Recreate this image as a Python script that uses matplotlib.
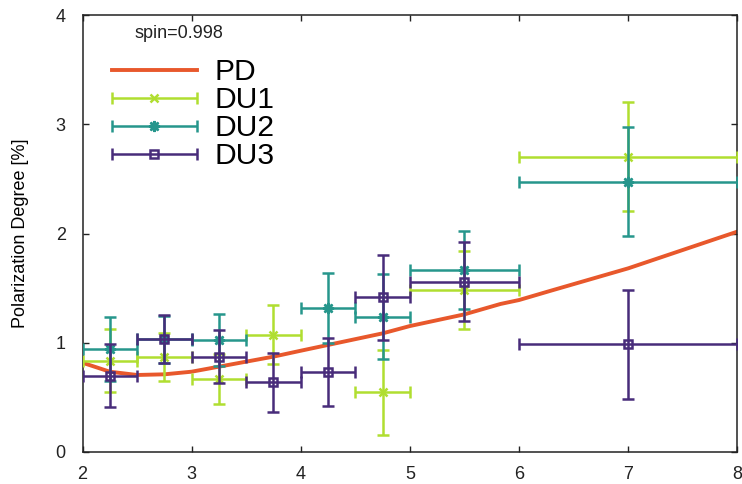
import numpy as np
import matplotlib
matplotlib.use("Agg")
import matplotlib.pyplot as plt
from matplotlib.container import ErrorbarContainer
from matplotlib.legend_handler import HandlerErrorbar

plt.rcParams['font.family'] = ['Liberation Sans', 'DejaVu Sans']

# PD model curve
pd_x = [2.0, 2.25, 2.5, 2.75, 3.0, 3.25, 3.5, 3.75, 4.0, 4.25, 4.75, 5.0,
        5.5, 5.83, 6.0, 6.29, 7.0, 7.5, 8.0]
pd_y = [0.817, 0.735, 0.705, 0.711, 0.735, 0.781, 0.827, 0.873, 0.927, 0.98,
        1.086, 1.153, 1.26, 1.355, 1.391, 1.476, 1.681, 1.849, 2.017]

# energy bins (centers and half widths)
bin_x = [2.25, 2.75, 3.25, 3.75, 4.25, 4.75, 5.5, 7.0]
bin_xerr = [0.25, 0.25, 0.25, 0.25, 0.25, 0.25, 0.5, 1.0]

du1_y = [0.836, 0.867, 0.668, 1.071, np.nan, 0.546, 1.483, 2.703]
du1_err = [0.29, 0.22, 0.23, 0.27, np.nan, 0.39, 0.36, 0.50]
du2_y = [0.943, 1.03, 1.025, np.nan, 1.315, 1.239, 1.666, 2.474]
du2_err = [0.29, 0.215, 0.24, np.nan, 0.32, 0.39, 0.36, 0.50]
du3_y = [0.699, 1.034, 0.873, 0.638, 0.73, 1.416, 1.559, 0.986]
du3_err = [0.29, 0.22, 0.24, 0.27, 0.31, 0.39, 0.36, 0.50]

c_pd = '#e8582c'
c_du1 = '#b0de30'
c_du2 = '#26968c'
c_du3 = '#482c7a'

fig = plt.figure(figsize=(7.42, 4.84), dpi=100)
ax = fig.add_axes([82.5/742, 1-452/484, (737.3-82.5)/742, (452-15)/484])

pd_line, = ax.plot(pd_x, pd_y, color=c_pd, lw=2.8, label='PD', zorder=2)

handles = [pd_line]
specs = [
    (du1_y, du1_err, c_du1, 'x', 6, 'DU1', 'full'),
    (du2_y, du2_err, c_du2, (8, 2, 0), 8, 'DU2', 'full'),
    (du3_y, du3_err, c_du3, 's', 6, 'DU3', 'none'),
]
for i, (yv, ye, col, mk, ms, lab, fill) in enumerate(specs):
    eb = ax.errorbar(bin_x, yv, xerr=bin_xerr, yerr=ye, fmt='none',
                     ecolor=col, elinewidth=1.8, capsize=4.5, capthick=1.8,
                     zorder=3 + i)
    mline, = ax.plot(bin_x, yv, linestyle='none', marker=mk, ms=ms,
                     color=col, mec=col, mew=1.8,
                     mfc='none' if fill == 'none' else col, zorder=3 + i)
    proxy = ErrorbarContainer((mline, eb.lines[1], eb.lines[2]),
                              has_xerr=True, has_yerr=False, label=lab)
    handles.append(proxy)

ax.set_xlim(2, 8)
ax.set_ylim(0, 4)
ax.set_xticks([2, 3, 4, 5, 6, 7, 8])
ax.set_yticks([0, 1, 2, 3, 4])
ax.tick_params(direction='in', length=4.5, width=1.0, top=True, right=True,
               labelsize=13, colors='#222222')
ax.tick_params(axis='y', pad=12)
ax.tick_params(axis='x', pad=10)
for s in ax.spines.values():
    s.set_linewidth(1.1)
    s.set_color('#222222')

ax.set_ylabel('Polarization Degree [%]', fontsize=13, labelpad=19)

ax.text(0.08, 0.958, 'spin=0.998', transform=ax.transAxes, fontsize=13,
        ha='left', va='center', color='#222222')

fs = 21.6
leg = ax.legend(handles=handles, labels=['PD', 'DU1', 'DU2', 'DU3'],
                loc='upper left', bbox_to_anchor=((111.7-82.5)/654.8, (452-58)/437),
                frameon=False, fontsize=fs, handlelength=2.83,
                handletextpad=0.6, labelspacing=0.0, borderpad=0,
                borderaxespad=0,
                handler_map={ErrorbarContainer: HandlerErrorbar(xerr_size=1.42)})

fig.savefig('out.png', dpi=100)
